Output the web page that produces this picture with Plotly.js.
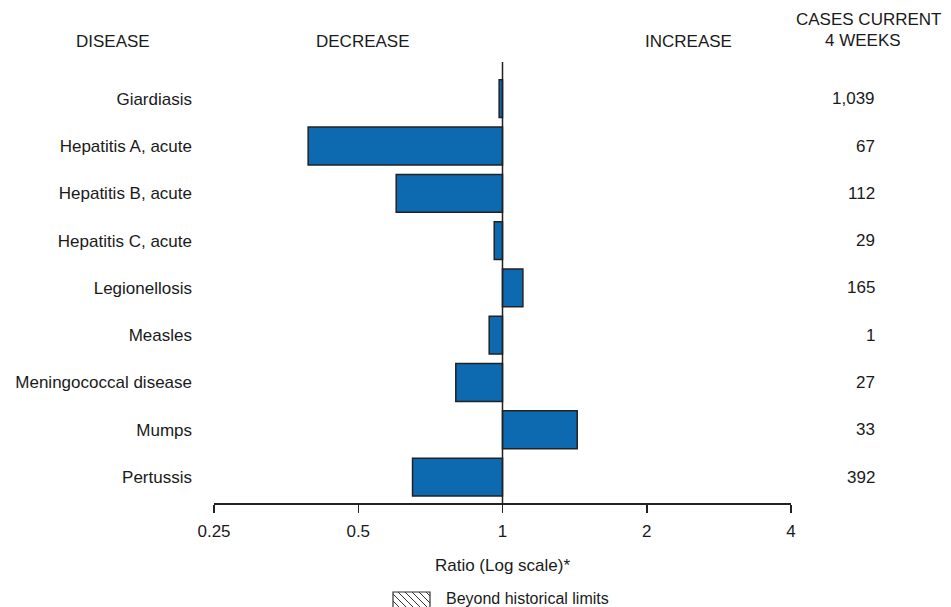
<!DOCTYPE html>
<html>
<head>
<meta charset="utf-8">
<script src="https://cdn.plot.ly/plotly-3.0.1.min.js"></script>
<style>
  html, body { margin: 0; padding: 0; background: #ffffff; }
  #chart { width: 951px; height: 607px; }
</style>
</head>
<body>
<div id="chart"></div>
<script>
// ---- Data ----
const diseases = [
  'Giardiasis',
  'Hepatitis A, acute',
  'Hepatitis B, acute',
  'Hepatitis C, acute',
  'Legionellosis',
  'Measles',
  'Meningococcal disease',
  'Mumps',
  'Pertussis'
];
const ratios = [0.984, 0.393, 0.600, 0.961, 1.103, 0.938, 0.799, 1.432, 0.649];
const casesCurrent4Weeks = ['1,039', '67', '112', '29', '165', '1', '27', '33', '392'];
const tickValues = [0.25, 0.5, 1, 2, 4];
const tickLabels = ['0.25', '0.5', '1', '2', '4'];
const headerLabels = ['DISEASE', 'DECREASE', 'INCREASE', 'CASES CURRENT', '4 WEEKS'];
const xTitle = 'Ratio (Log scale)*';
const legendLabel = 'Beyond historical limits';

// ---- Layout geometry ----
const W = 951, H = 607;
const M = {l: 214, r: 160, t: 62, b: 104};
const PW = W - M.l - M.r, PH = H - M.t - M.b;
const px2x = px => (px - M.l) / PW;
const py2y = py => (M.t + PH - py) / PH;

const FONT = '"Liberation Sans", Arial, Helvetica, sans-serif';
const TXT = '#1a1a1a';
const FS = 17;

// bars drawn from base 1 to ratio
const barTrace = {
  type: 'bar',
  orientation: 'h',
  y: diseases,
  base: ratios.map(() => 1),
  x: ratios.map(r => r - 1),
  width: 0.8,
  marker: {color: '#0e6ab0', line: {color: '#222222', width: 1.5}},
  showlegend: false,
  hoverinfo: 'skip'
};

const annotations = [];
// header labels
const headerPos = [
  [112.5, 41.7], [363, 41.7], [688, 41.7], [868, 19.5], [863, 40.8]
];
headerLabels.forEach((t, i) => {
  annotations.push({
    text: t, xref: 'paper', yref: 'paper',
    x: px2x(headerPos[i][0]), y: py2y(headerPos[i][1]),
    xanchor: 'center', yanchor: 'middle', showarrow: false,
    font: {family: FONT, size: FS, color: TXT}
  });
});
// cases column
diseases.forEach((d, i) => {
  annotations.push({
    text: casesCurrent4Weeks[i], xref: 'paper', yref: 'y',
    x: px2x(877), y: d,
    xanchor: 'right', yanchor: 'middle', showarrow: false,
    font: {family: FONT, size: FS, color: TXT}
  });
});
// legend text
annotations.push({
  text: legendLabel, xref: 'paper', yref: 'paper',
  x: px2x(444), y: py2y(598.5),
  xanchor: 'left', yanchor: 'middle', showarrow: false,
  font: {family: FONT, size: 16, color: TXT}
});

// legend swatch (hatched box)
const bx0 = 393, bx1 = 430, by0 = 592, by1 = 608;
const shapes = [];
shapes.push({
  type: 'rect', xref: 'paper', yref: 'paper',
  x0: px2x(bx0), x1: px2x(bx1), y0: py2y(by1), y1: py2y(by0),
  line: {color: '#333333', width: 1.2}, fillcolor: '#ffffff'
});
let hatch = '';
const hgt = by1 - by0;
for (let o = -hgt; o < bx1 - bx0; o += 7) {
  let sx = bx0 + o, sy = by0, ex = bx0 + o + hgt, ey = by1;
  if (sx < bx0) { sy += (bx0 - sx); sx = bx0; }
  if (ex > bx1) { ey -= (ex - bx1); ex = bx1; }
  if (ex - sx < 1) continue;
  hatch += `M${px2x(sx)},${py2y(sy)} L${px2x(ex)},${py2y(ey)} `;
}
shapes.push({
  type: 'path', xref: 'paper', yref: 'paper', path: hatch,
  line: {color: '#333333', width: 1}
});
// reference line at ratio 1
shapes.push({
  type: 'line', xref: 'x', yref: 'paper', x0: 1, x1: 1, y0: 0, y1: 1,
  line: {color: '#222222', width: 1.5}, layer: 'above'
});

const layout = {
  width: W, height: H,
  margin: M,
  paper_bgcolor: '#ffffff', plot_bgcolor: '#ffffff',
  font: {family: FONT, size: FS, color: TXT},
  showlegend: false,
  xaxis: {
    type: 'log',
    range: [Math.log10(tickValues[0]), Math.log10(tickValues[tickValues.length - 1])],
    tickvals: tickValues, ticktext: tickLabels,
    ticks: 'outside', ticklen: 8, tickwidth: 1.5, tickcolor: '#222222',
    ticklabelstandoff: 4,
    showline: true, linecolor: '#222222', linewidth: 1.5,
    showgrid: false, zeroline: false,
    tickfont: {family: FONT, size: FS, color: TXT},
    title: {text: xTitle, font: {family: FONT, size: FS, color: TXT}, standoff: 19},
    fixedrange: true
  },
  yaxis: {
    type: 'category',
    categoryorder: 'array', categoryarray: diseases,
    range: [8.548, -0.776],
    showline: false, showgrid: false, zeroline: false,
    ticks: '', ticklabelstandoff: 21,
    tickfont: {family: FONT, size: FS, color: TXT},
    fixedrange: true
  },
  bargap: 0.2,
  annotations: annotations,
  shapes: shapes
};

Plotly.newPlot('chart', [barTrace], layout, {displayModeBar: false, staticPlot: true});
</script>
</body>
</html>
